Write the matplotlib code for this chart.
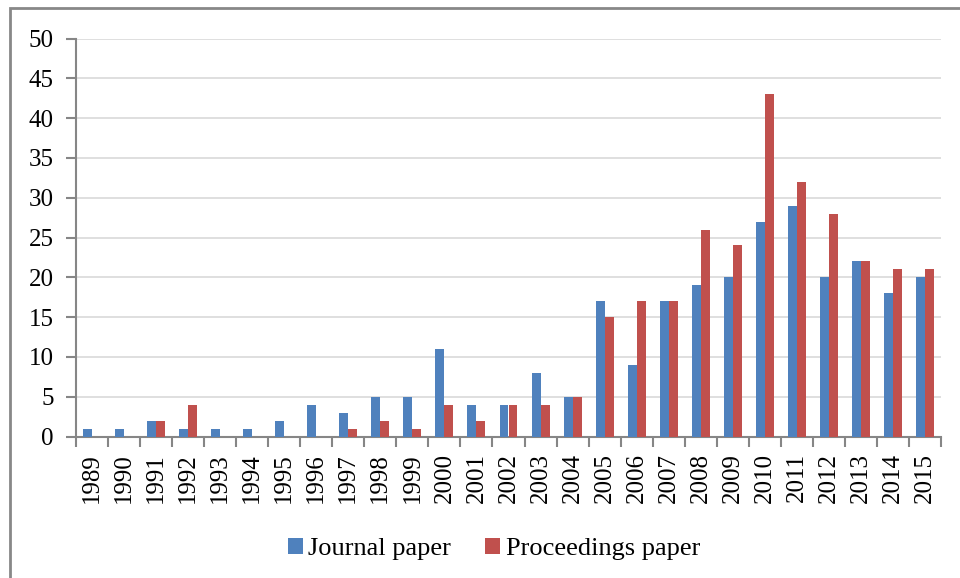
import numpy as np
import matplotlib
matplotlib.use("Agg")
import matplotlib.pyplot as plt
from matplotlib.patches import Rectangle

plt.rcParams['font.family'] = ['Liberation Serif', 'DejaVu Serif']

years = [str(y) for y in range(1989, 2016)]
journal = [1, 1, 2, 1, 1, 1, 2, 4, 3, 5, 5, 11, 4, 4, 8, 5, 17, 9, 17, 19, 20, 27, 29, 20, 22, 18, 20]
proceedings = [0, 0, 2, 4, 0, 0, 0, 0, 1, 2, 1, 4, 2, 4, 4, 5, 15, 17, 17, 26, 24, 43, 32, 28, 22, 21, 21]

blue = '#4F81BD'
red = '#C0504D'
axis_col = '#868686'

fig = plt.figure(figsize=(9.6, 5.78), dpi=100)
ax = fig.add_axes([76/960, 1-436.5/578, (941-76)/960, (436.5-38.5)/578])

x = np.arange(len(years))
w = 0.28
ax.bar(x - w/2, journal, w, color=blue, label='Journal paper', zorder=3)
ax.bar(x + w/2, proceedings, w, color=red, label='Proceedings paper', zorder=3)

ax.set_xlim(-0.5, len(years) - 0.5)
ax.set_ylim(0, 50)
ax.set_yticks(np.arange(0, 51, 5))
ax.yaxis.grid(True, color='#D9D9D9', linewidth=1.2, zorder=0)

# category boundaries get the tick marks, labels sit at the centres
ax.set_xticks(np.arange(-0.5, len(years), 1.0))
ax.set_xticklabels([])
ax.set_xticks(x, minor=True)
ax.set_xticklabels(years, minor=True, rotation=90, fontsize=18)
ax.tick_params(axis='x', which='major', length=7, width=1.5, color=axis_col, direction='out')
ax.tick_params(axis='x', which='minor', length=0, pad=12)
ax.tick_params(axis='y', length=7, width=1.5, color=axis_col, labelsize=18, pad=9)

for s in ['top', 'right']:
    ax.spines[s].set_visible(False)
for s in ['left', 'bottom']:
    ax.spines[s].set_color(axis_col)
    ax.spines[s].set_linewidth(1.5)

fig.legend(loc='center', bbox_to_anchor=(494/960, 1-549/578), ncol=2, frameon=False,
           fontsize=19, handlelength=0.57, handleheight=0.57, handletextpad=0.2,
           columnspacing=1.3)

fig.add_artist(Rectangle((10/960, -0.1), 1.2, 1.1 - 8.5/578, transform=fig.transFigure,
                         fill=False, edgecolor='#888888', linewidth=2))

fig.savefig('out.png', dpi=100)
